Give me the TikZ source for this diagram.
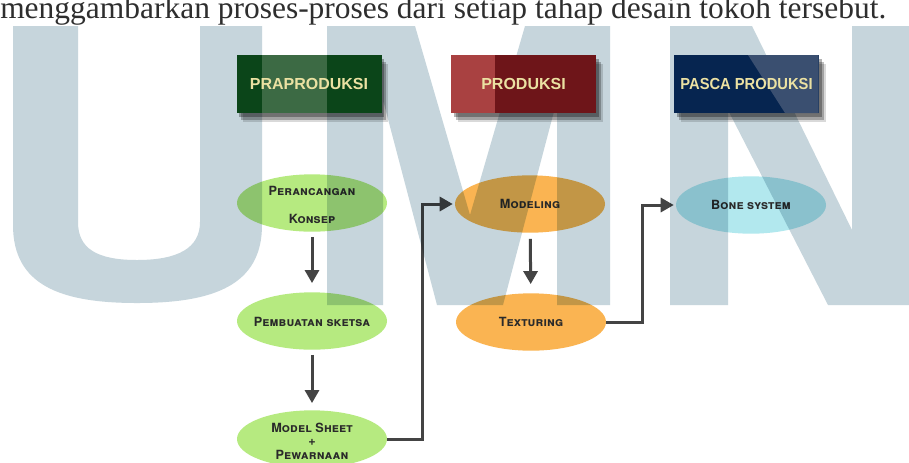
\documentclass[tikz,border=0pt]{standalone}
\usepackage{fontspec}
\setmainfont{Liberation Serif}
\newfontfamily\hdfont{Liberation Sans}
\newfontfamily\elfont[LetterSpace=1]{TeX Gyre Heros}
\usetikzlibrary{shapes.geometric,arrows.meta,shadows}
\definecolor{wmc}{HTML}{C6D5DC}
\definecolor{txtc}{HTML}{2E2E2E}
\definecolor{hdtxt}{HTML}{EBE1A2}
\definecolor{pradark}{HTML}{0B4519}
\definecolor{pralight}{HTML}{3C6A44}
\definecolor{proddark}{HTML}{6E1519}
\definecolor{prodlight}{HTML}{A94141}
\definecolor{pasdark}{HTML}{062550}
\definecolor{paslight}{HTML}{3A4F70}
\definecolor{greenel}{HTML}{B6EA80}
\definecolor{orangeel}{HTML}{FAB452}
\definecolor{cyanel}{HTML}{B2E8EE}
\definecolor{arrc}{HTML}{444444}
\definecolor{etxt}{HTML}{2A2A2A}
\begin{document}
\begin{tikzpicture}[x=0.75pt,y=-0.75pt,
  hbox/.style={rectangle, inner sep=0, minimum width=108.75pt, minimum height=43.5pt,
    drop shadow={shadow xshift=2pt, shadow yshift=-3pt, opacity=0.3, fill=black},
    drop shadow={shadow xshift=3.5pt, shadow yshift=-5pt, opacity=0.25, fill=black},
    drop shadow={shadow xshift=5pt, shadow yshift=-7pt, opacity=0.15, fill=black}},
  htext/.style={inner sep=0, text=hdtxt, font=\hdfont\bfseries\fontsize{12pt}{14pt}\selectfont},
  ell/.style={ellipse, inner sep=0, minimum width=112.5pt, minimum height=43pt},
  etext/.style={inner sep=0, align=center, text=etxt,
    font=\elfont\fontsize{9.5pt}{10pt}\selectfont\bfseries\scshape},
  arr/.style={draw=arrc, line width=2.25pt, -{Triangle[length=9.75pt, width=10.5pt]}},
]
\useasboundingbox (0,0) rectangle (909,462);
\fill[white] (0,0) rectangle (909,462);

% ellipses
\node[ell, fill=greenel] (konsep) at (312,203) {};
\node[etext] (konsepT) at (312,204.5) {Perancangan\\[11pt]Konsep};
\node[ell, fill=greenel] (sketsa) at (312,321) {};
\node[etext] (sketsaT) at (312,322) {Pembuatan sketsa};
\node[ell, fill=greenel] (model) at (312,439) {};
\node[etext] (modelT) at (312,441) {Model Sheet\\+\\Pewarnaan};
\node[ell, fill=orangeel] (modeling) at (530,204) {};
\node[etext] (modelingT) at (530,204) {Modeling};
\node[ell, fill=orangeel] (textur) at (531,322) {};
\node[etext] (texturT) at (531,322) {Texturing};
\node[ell, fill=cyanel] (bone) at (751,205) {};
\node[etext] (boneT) at (751,205) {Bone system};

% arrows
\draw[arr, shorten <=3.75pt, shorten >=6.75pt] (konsep) -- (sketsa);
\draw[arr, shorten <=3.75pt, shorten >=5.25pt] (sketsa) -- (model);
\draw[arr, shorten <=4.5pt, shorten >=6.75pt] (modeling) -- (textur);
\draw[arr, shorten >=1.5pt] (model.east) -- ++(35,0) |- (modeling.west);
\draw[arr, shorten >=1.5pt] (textur.east) -- ++(36,0) |- (bone.west);

% watermark
\begin{scope}[blend mode=multiply]
\fill[wmc] (13,26) -- (13,225) .. controls (13,285) and (60,303) .. (137,303)
  .. controls (214,303) and (262,285) .. (262,225) -- (262,26) -- (200,26) -- (200,222)
  .. controls (200,248) and (178,260) .. (137,260) .. controls (96,260) and (78,248) .. (78,222)
  -- (78,26) -- cycle;
\fill[wmc] (327,305) -- (327,26) -- (415,26) -- (470,215) -- (525,26) -- (610,26) -- (610,305)
  -- (557,305) -- (557,100) -- (503,305) -- (437,305) -- (383,100) -- (383,305) -- cycle;
\fill[wmc] (670,305) -- (670,26) -- (752,26) -- (852,230) -- (852,26) -- (909,26) -- (909,305)
  -- (828,305) -- (728,110) -- (728,305) -- cycle;
\end{scope}

% header boxes
\node[hbox, fill=pradark] (pra) at (309,84) {};
\fill[pralight] (262,55) rectangle (327,113);
\node[htext] (praT) at (pra) {PRAPRODUKSI};
\node[hbox, fill=proddark] (prod) at (523.5,84) {};
\fill[prodlight] (451,55) rectangle (495,113);
\node[htext] (prodT) at (prod) {PRODUKSI};
\node[hbox, fill=pasdark] (pasca) at (746.5,84) {};
\fill[paslight] (748,55) -- (818.5,55) -- (818.5,113) -- (785,113) -- cycle;
\node[htext] (pascaT) at (pasca) {\scalebox{0.92}[1]{PASCA PRODUKSI}};

% top text
\node[anchor=base west, inner sep=0, text=txtc, font=\fontsize{23.6pt}{28pt}\selectfont] (cap) at (0,18)
  {menggambarkan proses-proses dari setiap tahap desain tokoh tersebut.};
\end{tikzpicture}
\end{document}
